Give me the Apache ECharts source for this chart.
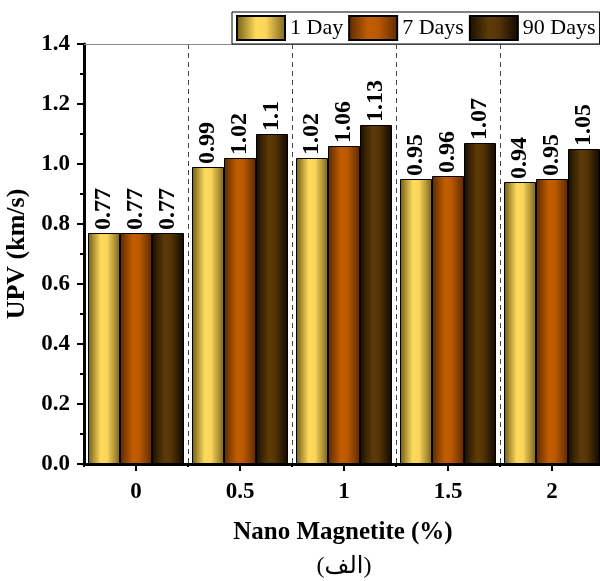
<!DOCTYPE html>
<html>
<head>
<meta charset="utf-8">
<script src="https://cdn.jsdelivr.net/npm/echarts@6/dist/echarts.min.js"></script>
<style>
  html, body { margin: 0; padding: 0; background: #fff; }
  #chart { width: 600px; height: 581px; }
</style>
</head>
<body>
<div id="chart"></div>
<script>
// UPV after 1, 7 and 90 days of curing vs. nano magnetite content
const categories = ['0', '0.5', '1', '1.5', '2'];
const upv1Day = [0.77, 0.99, 1.02, 0.95, 0.94];
const upv7Days = [0.77, 1.02, 1.06, 0.96, 0.95];
const upv90Days = [0.77, 1.1, 1.13, 1.07, 1.05];
const seriesNames = ['1 Day', '7 Days', '90 Days'];

const FONT = '"Liberation Serif", "Times New Roman", serif';

function barGradient(edgeL, mid1, mid2, edgeR) {
  return new echarts.graphic.LinearGradient(0, 0, 1, 0, [
    { offset: 0, color: edgeL },
    { offset: 0.4, color: mid1 },
    { offset: 0.6, color: mid2 },
    { offset: 1, color: edgeR }
  ]);
}

const fills = [
  barGradient('#6f5c14', '#ffda5c', '#fad45a', '#7a6418'),
  barGradient('#5a2900', '#c25e00', '#bb5900', '#5e2a00'),
  barGradient('#1a0f00', '#5e3b08', '#553406', '#0f0800')
];

function makeSeries(name, data, fill) {
  return {
    name: name,
    type: 'bar',
    data: data,
    barWidth: 32,
    barGap: '0%',
    itemStyle: { color: fill, borderColor: '#000', borderWidth: 1 },
    label: {
      show: true,
      position: 'top',
      rotate: 90,
      align: 'left',
      verticalAlign: 'middle',
      distance: 3,
      formatter: p => String(p.value),
      fontFamily: FONT,
      fontWeight: 'bold',
      fontSize: 24,
      color: '#000'
    }
  };
}

const chart = echarts.init(document.getElementById('chart'), null, { renderer: 'canvas' });

chart.setOption({
  animation: false,
  backgroundColor: '#fff',
  grid: { left: 84, right: -4, top: 44, bottom: 117, containLabel: false, outerBoundsMode: 'none' },
  legend: {
    data: seriesNames,
    left: 232,
    top: 12,
    padding: [3, 4, 3, 4],
    itemWidth: 48,
    itemHeight: 24,
    itemGap: 5,
    icon: 'rect',
    borderColor: '#000',
    borderWidth: 1,
    backgroundColor: '#fff',
    textStyle: { fontFamily: FONT, fontSize: 22, color: '#000' }
  },
  xAxis: [
    {
      type: 'category',
      data: categories,
      position: 'bottom',
      axisLine: { show: true, lineStyle: { color: '#000', width: 3 } },
      axisTick: { show: true, alignWithLabel: true, length: 7, lineStyle: { color: '#000', width: 2 } },
      axisLabel: { fontFamily: FONT, fontWeight: 'bold', fontSize: 23, color: '#000', margin: 17 },
      splitLine: { show: false }
    },
    {
      type: 'category',
      data: categories,
      position: 'bottom',
      axisLine: { show: false },
      axisTick: { show: true, length: 3, lineStyle: { color: '#000', width: 2 } },
      axisLabel: { show: false },
      splitLine: { show: true, lineStyle: { color: '#444', width: 1, type: [5, 4] } }
    },
    {
      type: 'category',
      data: categories,
      position: 'top',
      axisLine: { show: true, lineStyle: { color: '#888', width: 1 } },
      axisTick: { show: false },
      axisLabel: { show: false }
    }
  ],
  yAxis: {
    type: 'value',
    min: 0,
    max: 1.4,
    interval: 0.2,
    name: 'UPV (km/s)',
    nameLocation: 'middle',
    nameGap: 49,
    nameTextStyle: { fontFamily: FONT, fontWeight: 'bold', fontSize: 26, color: '#000' },
    axisLine: { show: true, lineStyle: { color: '#000', width: 3 } },
    axisTick: { show: true, length: 7, lineStyle: { color: '#000', width: 2 } },
    minorTick: { show: true, splitNumber: 2, length: 4, lineStyle: { color: '#000', width: 2 } },
    axisLabel: {
      fontFamily: FONT, fontWeight: 'bold', fontSize: 23, color: '#000', margin: 14,
      formatter: v => v.toFixed(1)
    },
    splitLine: { show: false }
  },
  graphic: [
    {
      type: 'text',
      style: {
        text: 'Nano Magnetite (%)',
        x: 343, y: 533,
        textAlign: 'center', textVerticalAlign: 'middle',
        fontFamily: FONT, fontWeight: 'bold', fontSize: 25, fill: '#000'
      }
    },
    {
      type: 'text',
      style: {
        text: '(الف)',
        x: 344, y: 567,
        textAlign: 'center', textVerticalAlign: 'middle',
        fontFamily: FONT + ', "DejaVu Sans"', fontSize: 24, fill: '#000'
      }
    }
  ],
  series: [
    makeSeries(seriesNames[0], upv1Day, fills[0]),
    makeSeries(seriesNames[1], upv7Days, fills[1]),
    makeSeries(seriesNames[2], upv90Days, fills[2])
  ]
});
</script>
</body>
</html>
